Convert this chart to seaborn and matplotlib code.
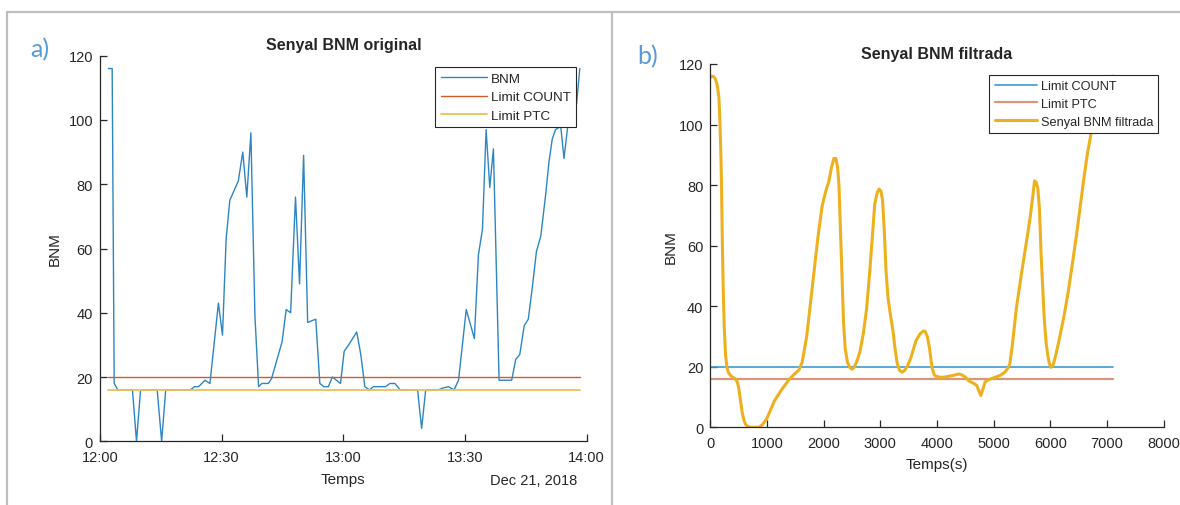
import numpy as np
import pandas as pd
import matplotlib
matplotlib.use("Agg")
import matplotlib.pyplot as plt
import matplotlib.dates as mdates
from matplotlib.lines import Line2D
import seaborn as sns

# ---------------- data ----------------
# panel a) original BNM signal: minutes after 12:00 and values
orig_minutes = [2.05, 3.0, 3.5, 4.4, 8.0, 9.0, 10.0, 14.1, 15.2, 16.2, 22.3, 23.3, 24.3,
                25.9, 27.1, 29.2, 30.2, 31.1, 32.0, 34.1, 35.2, 36.2, 37.2, 38.2, 39.1,
                39.9, 41.5, 42.3, 44.9, 45.9, 47.0, 48.2, 49.2, 50.2, 51.2, 52.2, 53.2,
                54.2, 55.2, 56.3, 57.3, 58.3, 59.3, 60.2, 61.3, 63.3, 64.3, 65.3, 66.4,
                67.4, 68.4, 70.4, 71.5, 72.7, 74.0, 78.3, 79.3, 80.3, 83.4, 84.6, 85.9,
                87.3, 88.4, 90.3, 92.3, 93.3, 94.3, 95.2, 96.1, 97.0, 98.4, 99.4, 100.4,
                101.5, 102.5, 103.5, 104.6, 105.6, 106.6, 107.6, 108.7, 109.9, 110.7,
                111.5, 112.3, 113.6, 114.4, 115.5, 117.5, 118.3]
orig_values = [116, 116, 18, 16, 16, 0, 16, 16, 0, 16, 16, 17, 17,
               19, 18, 43, 33, 63, 75, 81, 90, 76, 96, 39, 17,
               18, 18, 19.5, 31, 41, 40, 76, 49, 89, 37, 37.5, 38,
               18, 17, 17, 20, 19, 18, 28, 30, 34, 27, 17, 16,
               17, 17, 17, 18, 18, 16, 16, 4, 16, 16, 16.6, 17,
               16, 19, 41, 32, 58, 66, 97, 79, 91, 19, 19, 19,
               19, 25.5, 27, 36, 38, 48, 59, 64, 77, 87,
               94, 97, 98, 88, 100, 105, 116]

# panel b) filtered signal: time in seconds and values
filt_seconds = [0, 30, 60, 90, 120, 150, 168, 185, 197, 210, 226, 245, 267, 290, 320,
                360, 400, 440, 475, 500, 530, 560, 590, 620, 663, 720, 790, 860, 925,
                1000, 1129, 1260, 1390, 1480, 1565, 1620, 1700, 1827, 1900, 1972, 2030,
                2088, 2140, 2180, 2215, 2245, 2270, 2292, 2320, 2350, 2380, 2420, 2460,
                2495, 2530, 2580, 2641, 2700, 2757, 2814, 2860, 2902, 2945, 2980, 3010,
                3040, 3070, 3100, 3135, 3180, 3222, 3260, 3300, 3340, 3385, 3430, 3483,
                3540, 3629, 3700, 3760, 3792, 3830, 3870, 3910, 3950, 3990, 4040, 4094,
                4200, 4300, 4385, 4440, 4500, 4560, 4640, 4705, 4740, 4775, 4810, 4851,
                4920, 5025, 5120, 5200, 5250, 5287, 5330, 5404, 5491, 5578, 5640, 5690,
                5723, 5750, 5781, 5810, 5839, 5870, 5897, 5930, 5955, 5985, 6013, 6050,
                6100, 6170, 6246, 6320, 6391, 6460, 6536, 6600, 6653, 6710, 6758, 6830,
                6900, 7000, 7100]
filt_values = [115.5, 116, 115.8, 115, 113, 109, 101, 90, 79, 62, 46, 33, 24, 20, 18,
               17, 16.5, 16, 15, 13, 9, 5, 2.5, 1, 0.2, 0, 0, 0, 1,
               3, 8.7, 12.5, 15.8, 17.5, 19, 21.5, 30, 51, 63, 73, 77.5,
               81, 86, 88.8, 88.8, 86, 80, 68, 52, 35, 26, 21.5, 19.8,
               19.2, 19.6, 21.5, 25, 31, 39, 51.5, 63, 73.8, 77.5, 78.7, 78,
               75, 65, 52, 43, 37, 32, 26, 21, 18.8, 18.2, 18.8, 20.4,
               23, 28.6, 30.8, 31.8, 31.7, 30, 26, 20, 17.4, 16.8, 16.6, 16.5,
               16.8, 17.2, 17.6, 17.3, 16.6, 15.4, 14.6, 13.8, 12, 10.5, 12.5, 15,
               15.8, 16.5, 17.2, 18.2, 19.5, 21, 27, 39.6, 50.6, 61, 68.5, 76,
               81.4, 81, 79, 72, 57, 45, 35, 27.5, 24, 21, 19.8, 20.5,
               24, 30, 37, 45, 54, 63, 74, 83, 90, 96, 101, 106,
               110, 114, 116]

limit_count = 20
limit_ptc = 16
filt_limit_range = [0, 7100]

# ---------------- style ----------------
sns.set_style("ticks")
plt.rcParams['font.family'] = ['Liberation Sans', 'DejaVu Sans']
plt.rcParams['axes.edgecolor'] = '#262626'
plt.rcParams['xtick.color'] = '#262626'
plt.rcParams['ytick.color'] = '#262626'
plt.rcParams['text.color'] = '#262626'
plt.rcParams['axes.labelcolor'] = '#262626'

W, H = 1180, 506
fig = plt.figure(figsize=(W / 100, H / 100), dpi=100)


def px_axes(x0, x1, ytop, ybot):
    return fig.add_axes([x0 / W, 1 - ybot / H, (x1 - x0) / W, (ybot - ytop) / H])


axA = px_axes(100, 586.7, 56.7, 442.3)
axB = px_axes(710.4, 1163.5, 65, 428.3)

base = pd.Timestamp("2018-12-21 12:00")
df_a = pd.DataFrame({
    "Temps": [base + pd.Timedelta(minutes=m) for m in orig_minutes],
    "BNM": orig_values,
})
t_first, t_last = df_a["Temps"].iloc[0], df_a["Temps"].iloc[-1]
df_lim_a = pd.DataFrame({
    "Temps": [t_first, t_last],
    "count": [limit_count, limit_count],
    "ptc": [limit_ptc, limit_ptc],
})

c_blue = '#2E86C1'
c_red = '#D9582A'
c_yel = '#EDB120'

sns.lineplot(data=df_a, x="Temps", y="BNM", ax=axA, color=c_blue, lw=1.0, label="BNM")
sns.lineplot(data=df_lim_a, x="Temps", y="count", ax=axA, color=c_red, lw=1.0, label="Limit COUNT")
sns.lineplot(data=df_lim_a, x="Temps", y="ptc", ax=axA, color='#E9C15A', lw=1.3, label="Limit PTC")

df_b = pd.DataFrame({"t": filt_seconds, "v": filt_values})
df_lim_b = pd.DataFrame({"t": filt_limit_range,
                         "count": [limit_count] * 2, "ptc": [limit_ptc] * 2})
sns.lineplot(data=df_lim_b, x="t", y="count", ax=axB, color='#3E9BCF', lw=1.2, label="Limit COUNT")
sns.lineplot(data=df_lim_b, x="t", y="ptc", ax=axB, color='#D8977C', lw=1.6, label="Limit PTC")
sns.lineplot(data=df_b, x="t", y="v", ax=axB, color=c_yel, lw=2.2, label="Senyal BNM filtrada")
axB.lines[-1].set_solid_joinstyle('round')

# axes formatting
for ax in (axA, axB):
    sns.despine(ax=ax)
    ax.set_ylim(0, 120)
    ax.set_yticks(np.arange(0, 121, 20))
    ax.tick_params(direction='in', length=5, width=0.9, labelsize=10.5, pad=5)
    ax.tick_params(axis='x', pad=6)
    for s in ax.spines.values():
        s.set_linewidth(0.9)

axA.set_xlim(base, base + pd.Timedelta(hours=2))
axA.xaxis.set_major_locator(mdates.MinuteLocator(byminute=[0, 30]))
axA.xaxis.set_major_formatter(mdates.DateFormatter("%H:%M"))
axA.set_title("Senyal BNM original", fontsize=11.5, fontweight='bold', pad=4.5)
axA.set_xlabel("Temps", fontsize=11, va='center')
axA.set_ylabel("BNM", fontsize=11, va='center')
axA.xaxis.set_label_coords(0.5, -0.098)
axA.yaxis.set_label_coords(-0.094, 0.5)
axA.text(0.98, -0.1, "Dec 21, 2018", transform=axA.transAxes, ha='right', va='center',
         fontsize=10.5)

axB.set_xlim(0, 8000)
axB.set_xticks(np.arange(0, 8001, 1000))
axB.set_title("Senyal BNM filtrada", fontsize=11.5, fontweight='bold', pad=4.5)
axB.set_xlabel("Temps(s)", fontsize=11, va='center')
axB.set_ylabel("BNM", fontsize=11, va='center')
axB.xaxis.set_label_coords(0.5, -0.101)
axB.yaxis.set_label_coords(-0.087, 0.5)

leg_kw = dict(loc='upper right', bbox_transform=fig.transFigure, borderaxespad=0,
              fancybox=False, framealpha=1, edgecolor='#262626',
              handletextpad=0.3, labelspacing=0.45, borderpad=0.4)
legA = axA.legend(bbox_to_anchor=(576 / W, 1 - 68 / H), fontsize=9.7, handlelength=3.4,
                  **leg_kw)
legB = axB.legend(bbox_to_anchor=(1158 / W, 1 - 76 / H), fontsize=9.2, handlelength=3.3,
                  **leg_kw)
for lg in (legA, legB):
    lg.get_frame().set_linewidth(0.8)

# panel letters
fig.text(40 / W, 1 - 50 / H, "a)", color='#5B9BD5', fontsize=18, ha='center', va='center',
         family=['Lato', 'DejaVu Sans'])
fig.text(648 / W, 1 - 57 / H, "b)", color='#5B9BD5', fontsize=18, ha='center', va='center',
         family=['Lato', 'DejaVu Sans'])

# table-like borders
gray = '#BFBFBF'
fig.add_artist(Line2D([7 / W, 1], [1 - 13 / H, 1 - 13 / H], transform=fig.transFigure,
                      color=gray, lw=1.6))
fig.add_artist(Line2D([7 / W, 7 / W], [0, 1 - 13 / H], transform=fig.transFigure,
                      color=gray, lw=1.6))
fig.add_artist(Line2D([612 / W, 612 / W], [0, 1 - 13 / H], transform=fig.transFigure,
                      color=gray, lw=1.6))

fig.savefig("out.png", dpi=100)
